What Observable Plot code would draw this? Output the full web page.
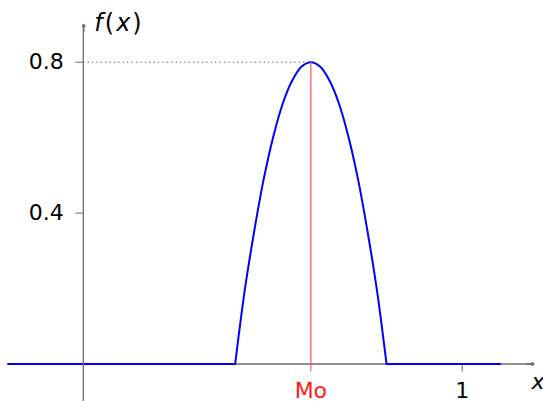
<!DOCTYPE html>
<html>
<head>
<meta charset="utf-8">
<script src="https://cdn.jsdelivr.net/npm/d3@7"></script>
<script src="https://cdn.jsdelivr.net/npm/@observablehq/plot@0.6"></script>
<style>
  html, body { margin: 0; padding: 0; background: #fff; }
  svg { display: block; }
</style>
</head>
<body>
<div id="chart"></div>
<script>
// Density with a single mode: zero outside [0.4, 0.8], a parabolic hump in between.
const flatLeftX = [-0.2, 0.4];
const flatLeftY = [0, 0];
const humpX = [0.4, 0.425, 0.45, 0.475, 0.5, 0.525, 0.55, 0.575, 0.6,
               0.625, 0.65, 0.675, 0.7, 0.725, 0.75, 0.775, 0.8];
const humpY = [0, 0.193, 0.35, 0.488, 0.6, 0.688, 0.75, 0.788, 0.8,
               0.788, 0.75, 0.688, 0.6, 0.488, 0.35, 0.193, 0];
const flatRightX = [0.8, 1.1];
const flatRightY = [0, 0];

// Mode and its density value
const modeX = 0.6;
const modeY = 0.8;
const modeLabel = "Mo";

// Axes
const xAxisExtent = [-0.2, 1.19];
const yAxisExtent = [-0.1, 0.9];
const xTicks = [1];
const yTicks = [0.4, 0.8];
const xName = "x";

const zip = (xs, ys) => xs.map((x, i) => ({x, y: ys[i]}));
const axisGray = "#6b6b6b";
const font = "'DejaVu Sans', sans-serif";
const head = {stroke: axisGray, strokeWidth: 1.3, headLength: 7, headAngle: 70};

// vertical axis line, drawn from the scales over the whole y extent
function yAxisLine(index, scales) {
  return d3.create("svg:line")
    .attr("x1", scales.x(0)).attr("x2", scales.x(0))
    .attr("y1", scales.y(yAxisExtent[0])).attr("y2", scales.y(yAxisExtent[1]))
    .attr("stroke", axisGray).attr("stroke-width", 1.3)
    .node();
}

// f(x) label next to the top of the y axis: italic letters, upright parentheses
function fxLabel(index, scales) {
  const t = d3.create("svg:text")
    .attr("x", scales.x(0) + 11)
    .attr("y", scales.y(yAxisExtent[1]) + 7)
    .attr("text-anchor", "start")
    .attr("font-size", 24)
    .attr("letter-spacing", 2)
    .attr("fill", "black");
  t.append("tspan").attr("font-style", "italic").text("f");
  t.append("tspan").text("(");
  t.append("tspan").attr("font-style", "italic").text("x");
  t.append("tspan").text(")");
  return t.node();
}

const chart = Plot.plot({
  width: 543,
  height: 401,
  marginLeft: 83.3,
  marginRight: 5.6,
  marginTop: 24,
  marginBottom: 37.5,
  x: {domain: [0, 1.2]},
  y: {domain: [0, 0.9]},
  style: {fontFamily: font, fontSize: "22px", background: "white", color: "black", overflow: "visible"},
  marks: [
    // dotted guide from the y axis to the peak
    Plot.ruleY([modeY], {x1: 0, x2: modeX, stroke: "#333", strokeWidth: 1, strokeDasharray: "1,3.4"}),
    // x axis line with arrow head
    Plot.ruleY([0], {x1: xAxisExtent[0], x2: xAxisExtent[1], stroke: axisGray, strokeWidth: 1.3}),
    Plot.arrow([{x1: xAxisExtent[1] - 0.02, x2: xAxisExtent[1], y: 0}], {x1: "x1", x2: "x2", y1: "y", y2: "y", ...head}),
    Plot.axisX({ticks: xTicks, tickFormat: d => String(d), tickSize: 8, tickPadding: 10, stroke: axisGray, fill: "black", label: null}),
    // density curve
    Plot.line(zip(flatLeftX, flatLeftY), {x: "x", y: "y", stroke: "#0000ff", strokeWidth: 2}),
    Plot.line(zip(humpX, humpY), {x: "x", y: "y", stroke: "#0000ff", strokeWidth: 2, curve: "catmull-rom"}),
    Plot.line(zip(flatRightX, flatRightY), {x: "x", y: "y", stroke: "#0000ff", strokeWidth: 2}),
    // y axis line with arrow head
    yAxisLine,
    Plot.arrow([{y1: yAxisExtent[1] - 0.02, y2: yAxisExtent[1], x: 0}], {x1: "x", x2: "x", y1: "y1", y2: "y2", ...head}),
    Plot.axisY({ticks: yTicks, tickSize: 8, tickPadding: 12, stroke: axisGray, fill: "black", label: null}),
    // mode line and its tick
    Plot.axisX({ticks: [modeX], tickFormat: () => modeLabel, tickSize: 8, tickPadding: 10, stroke: "#ff5050", fill: "#ff1a1a", label: null}),
    Plot.ruleX([modeX], {y1: 0, y2: modeY, stroke: "#ff5050", strokeWidth: 1.2}),
    // axis names
    Plot.text([xName], {x: 1.2, y: 0, text: d => d, dy: 18, fontStyle: "italic", fontSize: 22, fill: "black"}),
    fxLabel
  ]
});

document.getElementById("chart").appendChild(chart);
</script>
</body>
</html>
